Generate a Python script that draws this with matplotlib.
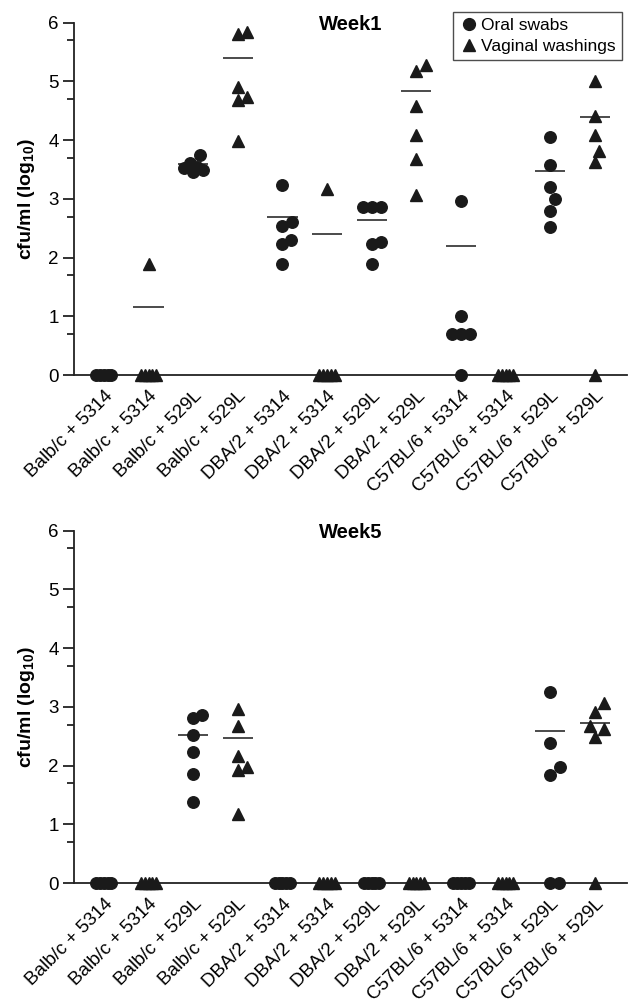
import numpy as np
import matplotlib
matplotlib.use("Agg")
import matplotlib.pyplot as plt
from matplotlib.lines import Line2D

plt.rcParams['font.family'] = ['Liberation Sans', 'DejaVu Sans']
plt.rcParams['mathtext.fontset'] = 'custom'
plt.rcParams['mathtext.rm'] = 'Liberation Sans'
plt.rcParams['mathtext.bf'] = 'Liberation Sans:bold'

# groups along the x axis (odd = oral swabs, even = vaginal washings)
groups = ["Balb/c + 5314", "Balb/c + 5314", "Balb/c + 529L", "Balb/c + 529L",
          "DBA/2 + 5314", "DBA/2 + 5314", "DBA/2 + 529L", "DBA/2 + 529L",
          "C57BL/6 + 5314", "C57BL/6 + 5314", "C57BL/6 + 529L", "C57BL/6 + 529L"]

# Week 1 values, log10 cfu/ml
week1 = [
    [0, 0, 0, 0, 0],
    [1.89, 0, 0, 0, 0, 0],
    [3.75, 3.61, 3.54, 3.53, 3.49, 3.46],
    [5.85, 5.80, 4.90, 4.74, 4.68, 3.99],
    [3.23, 2.61, 2.53, 2.30, 2.24, 1.89],
    [3.16, 0, 0, 0, 0, 0],
    [2.86, 2.86, 2.86, 2.26, 2.23, 1.89],
    [5.28, 5.17, 4.58, 4.09, 3.68, 3.07],
    [2.97, 1.00, 0.69, 0.69, 0.69, 0],
    [0, 0, 0, 0, 0],
    [4.05, 3.57, 3.20, 3.00, 2.80, 2.52],
    [5.00, 4.42, 4.09, 3.82, 3.62, 0],
]
week1_lines = [None, 1.15, 3.60, 5.40, 2.69, 2.40, 2.64, 4.84, 2.20, None, 3.48, 4.40]

# Week 5 values
week5 = [
    [0, 0, 0, 0, 0],
    [0, 0, 0, 0, 0],
    [2.86, 2.81, 2.52, 2.23, 1.86, 1.38],
    [2.96, 2.68, 2.17, 1.97, 1.92, 1.18],
    [0, 0, 0, 0, 0],
    [0, 0, 0, 0, 0],
    [0, 0, 0, 0, 0],
    [0, 0, 0, 0, 0],
    [0, 0, 0, 0, 0],
    [0, 0, 0, 0, 0],
    [3.26, 2.38, 1.97, 1.84, 0, 0],
    [3.06, 2.91, 2.68, 2.62, 2.48, 0],
]
week5_lines = [None, None, 2.52, 2.47, None, None, None, None, None, None, 2.59, 2.73]

INK = '#1a1a1a'
PX_X = 44.6   # pixels per x unit
PX_Y = 58.7   # pixels per y unit


def swarm(vals, d=12.5, lim=9.5):
    # small beeswarm in pixel space, width capped; big ties get squeezed
    vals = np.asarray(vals, dtype=float)
    offs = np.zeros(len(vals))
    placed = []
    uniq, counts = np.unique(vals, return_counts=True)
    done = set()
    for u, c in zip(uniq, counts):
        if c >= 4:
            idx = np.where(vals == u)[0]
            offs[idx] = np.linspace(-0.17, 0.17, c)
            done.update(idx.tolist())
            placed += [(o * PX_X, u * PX_Y) for o in offs[idx]]
    cands = np.arange(-lim, lim + 0.01, 0.5)
    cands = cands[np.argsort(np.abs(cands) + 1e-3 * (cands < 0))]
    for i in np.argsort(vals):
        if i in done:
            continue
        y = vals[i] * PX_Y
        best, best_d = 0.0, -1
        for s in cands:
            md = min([np.hypot(s - px, y - py) for px, py in placed] or [1e9])
            if md >= d:
                best = s
                break
            if md > best_d + 0.5:
                best, best_d = s, md
        offs[i] = best / PX_X
        placed.append((best, y))
    return offs


def draw_panel(ax, data, lines, title):
    x = np.arange(1, len(groups) + 1)
    for i, vals in enumerate(data):
        marker = 'o' if i % 2 == 0 else '^'
        ms = 8.3 if marker == 'o' else 8.0
        offs = swarm(vals)
        ax.plot(x[i] + offs, vals, linestyle='none', marker=marker, ms=ms,
                color=INK, mec=INK, clip_on=False, zorder=3)
        if lines[i] is not None:
            ax.hlines(lines[i], x[i] - 0.34, x[i] + 0.34, color=INK, lw=1.1, zorder=4)
    ax.set_xlim(0.33, 12.72)
    ax.set_ylim(0, 6)
    ax.set_yticks(range(0, 7))
    ax.set_yticks([k + np.log10(5) for k in range(6)], minor=True)
    ax.tick_params(axis='y', which='major', length=8, width=1.3, labelsize=13.5, pad=3, color='#222222')
    ax.tick_params(axis='y', which='minor', length=5, width=1.3, color='#222222')
    ax.set_xticks(x)
    ax.set_xticklabels(groups, rotation=45, ha='right', rotation_mode='anchor', fontsize=13.5)
    ax.tick_params(axis='x', length=0, pad=9)
    for s in ('top', 'right'):
        ax.spines[s].set_visible(False)
    for s in ('left', 'bottom'):
        ax.spines[s].set_linewidth(1.3)
        ax.spines[s].set_color('#222222')
    ax.set_ylabel(r'cfu/ml (log$_{\mathbf{10}}$)', fontsize=14, fontweight='bold', labelpad=8)
    ax.text(0.5, 0.995, title, transform=ax.transAxes, ha='center', va='center',
            fontsize=14.5, fontweight='bold')


fig = plt.figure(figsize=(6.39, 10.07), dpi=100)
ax1 = fig.add_axes([0.1158, 0.6276, 0.8654, 0.3498])
ax2 = fig.add_axes([0.1158, 0.1231, 0.8654, 0.3498])

draw_panel(ax1, week1, week1_lines, 'Week1')
draw_panel(ax2, week5, week5_lines, 'Week5')

handles = [Line2D([], [], linestyle='none', marker='o', ms=8.5, color=INK),
           Line2D([], [], linestyle='none', marker='^', ms=8.5, color=INK)]
leg = fig.legend(handles, ['Oral swabs', 'Vaginal washings'], loc='upper right',
                 bbox_to_anchor=(622 / 639, 1 - 12 / 1007), fontsize=12.5,
                 frameon=True, fancybox=False, edgecolor='#222222',
                 handletextpad=0.1, handlelength=1.2, borderpad=0.35, labelspacing=0.3,
                 borderaxespad=0)
leg.get_frame().set_linewidth(1.0)

fig.savefig('out.png', dpi=100)
